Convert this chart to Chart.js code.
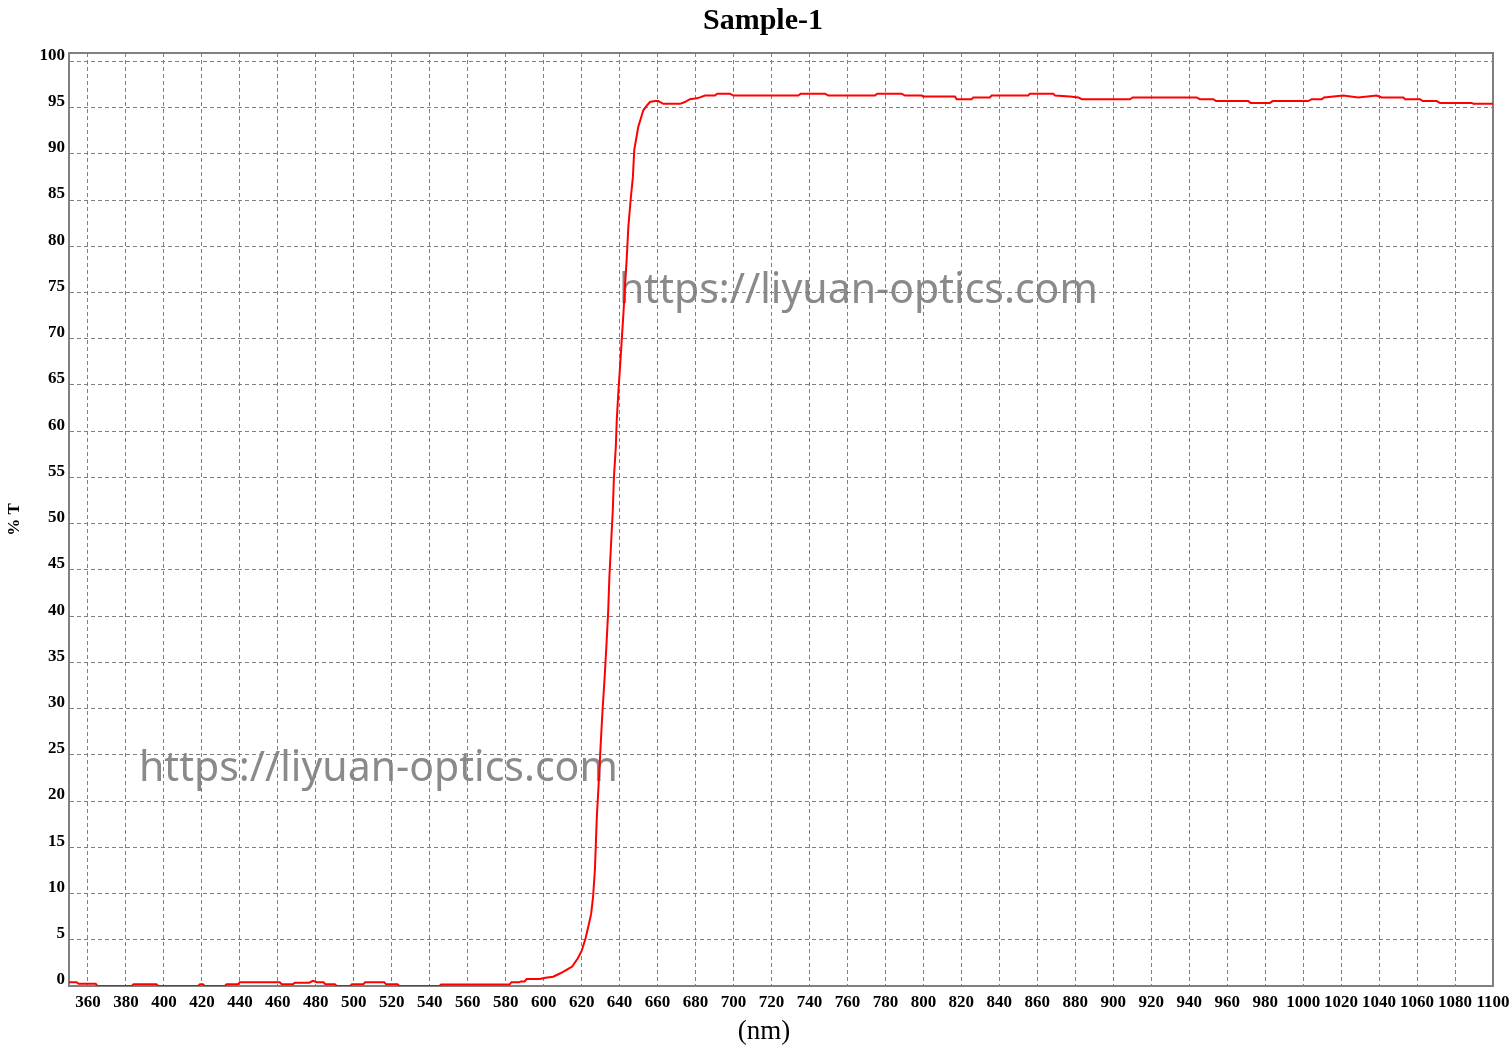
<!DOCTYPE html>
<html><head><meta charset="utf-8">
<script src="https://cdn.jsdelivr.net/npm/chart.js@4.4.1/dist/chart.umd.min.js"></script>
<style>html,body{margin:0;padding:0;background:#fff;}#wrap{width:1511px;height:1049px;position:relative;}</style>
</head><body><div id="wrap"><canvas id="c" width="1511" height="1049"></canvas></div>
<script>
const chartTitle = 'Sample-1';
const xAxisTitle = '(nm)';
const yAxisTitle = '% T';
const watermarkText = 'https://liyuan-optics.com';
const xTickValues = [360,380,400,420,440,460,480,500,520,540,560,580,600,620,640,660,680,700,720,740,760,780,800,820,840,860,880,900,920,940,960,980,1000,1020,1040,1060,1080,1100];
const yTickValues = [0,5,10,15,20,25,30,35,40,45,50,55,60,65,70,75,80,85,90,95,100];
const wavelengths = [350,354,355,364,365,383,384,396,397,418,419,420.5,421.5,432,433,439,440,461,462,468,469,476.5,478.5,480.5,484,485,490,491,498,499,505,506,516,517,523,524,545,546,582,583,587,588,590,591,598,601,605,608,610,612.5,615,618,620,622,623.5,625,626,627,628,629,630,631,632,633,634,634.6,635.5,636.4,637,638,638.5,639.3,640.2,641.1,642,642.8,643.7,644.6,645.8,647,647.7,649.8,652.5,654.3,656,658.6,660.4,663,671.8,674.4,677,680.6,682.3,685,690.2,691.4,698.1,699.9,734.1,735.4,748.2,749.9,774.5,775.7,788.5,790.3,799.1,799.9,816.6,817.5,825.4,826.3,835,835.9,855.2,856.1,868.4,869.3,877.2,881.6,883.4,908.8,910.2,943.9,945.6,952.7,954.1,971.1,972.4,982.5,984,1002.7,1004.5,1009.8,1011,1021.1,1029,1038.7,1041.4,1052.8,1053.7,1061.6,1063,1070.3,1072.1,1088.8,1089.7,1100];
const transmission = [0.4,0.4,0.25,0.25,0.0,0.0,0.2,0.2,0.0,0.0,0.2,0.2,0.0,0.0,0.2,0.2,0.4,0.4,0.2,0.2,0.35,0.35,0.55,0.4,0.4,0.2,0.2,0.0,0.0,0.2,0.2,0.4,0.4,0.2,0.2,0.0,0.0,0.15,0.15,0.4,0.4,0.5,0.5,0.75,0.75,0.9,1.0,1.3,1.5,1.8,2.1,3.0,3.8,5.1,6.4,7.8,9.6,12.6,18.3,22.0,26.0,29.8,33.0,36.6,40.6,44.2,47.8,51.4,55.0,58.3,61.2,64.1,66.9,69.8,72.7,75.6,78.5,82.1,85.0,87.5,90.4,92.9,94.7,95.2,95.6,95.7,95.7,95.4,95.4,95.6,95.9,96.0,96.1,96.3,96.3,96.5,96.5,96.3,96.3,96.5,96.5,96.3,96.3,96.5,96.5,96.3,96.3,96.2,96.2,95.9,95.9,96.1,96.1,96.3,96.3,96.5,96.5,96.3,96.2,96.1,95.9,95.9,96.1,96.1,95.9,95.9,95.7,95.7,95.5,95.5,95.7,95.7,95.9,95.9,96.1,96.3,96.1,96.3,96.1,96.1,95.9,95.9,95.7,95.7,95.5,95.5,95.4,95.4];

const points = wavelengths.map((w, i) => ({x: w, y: transmission[i]}));
const serif = '"Liberation Serif", "Times New Roman", serif';
const tickFont = {family: serif, weight: 'bold', size: 17};
const gridColor = '#808080';

const decorPlugin = {
  id: 'decor',
  beforeDatasetsDraw(chart) {
    const ctx = chart.ctx, a = chart.chartArea;
    ctx.save();
    ctx.font = '41px "Noto Sans", "Open Sans", sans-serif';
    ctx.fillStyle = 'rgba(125,125,125,0.9)';
    ctx.textBaseline = 'alphabetic';
    ctx.textAlign = 'left';
    ctx.fillText(watermarkText, 619, 303);
    ctx.fillText(watermarkText, 139, 781);
    ctx.strokeStyle = gridColor;
    ctx.lineWidth = 2;
    ctx.setLineDash([]);
    ctx.strokeRect(a.left, a.top, a.right - a.left, a.bottom - a.top);
    ctx.restore();
  },
  afterDraw(chart) {
    const ctx = chart.ctx;
    ctx.save();
    ctx.fillStyle = '#000';
    ctx.textAlign = 'center';
    ctx.textBaseline = 'middle';
    ctx.font = 'bold 30px ' + serif;
    ctx.fillText(chartTitle, 763, 21);
    ctx.font = '27px ' + serif;
    ctx.fillText(xAxisTitle, 764, 1032);
    ctx.restore();
  }
};

new Chart(document.getElementById('c'), {
  type: 'line',
  data: {
    datasets: [{
      label: chartTitle,
      data: points,
      borderColor: '#ff0000',
      borderWidth: 2,
      pointRadius: 0,
      tension: 0,
      fill: false
    }]
  },
  options: {
    responsive: false,
    animation: false,
    devicePixelRatio: 1,
    layout: {padding: {top: 53, right: 18, left: 0, bottom: 0}},
    plugins: {legend: {display: false}, title: {display: false}, tooltip: {enabled: false}},
    scales: {
      x: {
        type: 'linear',
        min: 350,
        max: 1100,
        afterBuildTicks: s => { s.ticks = xTickValues.map(v => ({value: v})); },
        afterFit: s => { s.height = 63; s.paddingLeft = 0; s.paddingRight = 0; },
        ticks: {font: tickFont, color: '#000', padding: 6, maxRotation: 0, autoSkip: false, callback: v => String(v)},
        grid: {color: gridColor, lineWidth: 1, drawTicks: false},
        border: {display: true, color: gridColor, width: 2, dash: [4, 3]},
        title: {display: false}
      },
      y: {
        type: 'linear',
        min: 0,
        max: 100.9,
        afterBuildTicks: s => { s.ticks = yTickValues.map(v => ({value: v})); },
        afterFit: s => { s.width = 69; s.paddingTop = 0; s.paddingBottom = 0; },
        ticks: {font: tickFont, color: '#000', padding: 4, labelOffset: -6, autoSkip: false, callback: v => String(v)},
        grid: {color: gridColor, lineWidth: 1, drawTicks: false},
        border: {display: true, color: gridColor, width: 2, dash: [4, 3]},
        title: {display: true, text: yAxisTitle, color: '#000', font: {family: serif, weight: 'bold', size: 17}, padding: {top: 4, bottom: 0}}
      }
    }
  },
  plugins: [decorPlugin]
});
</script></body></html>
